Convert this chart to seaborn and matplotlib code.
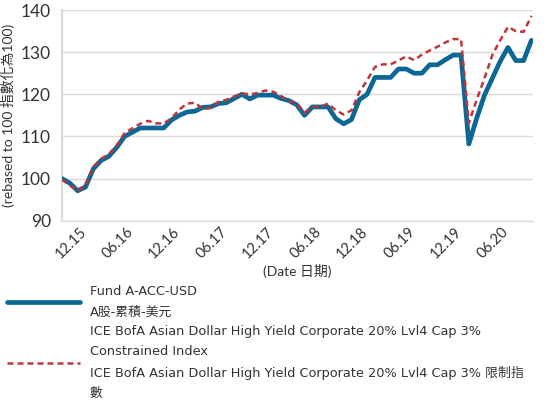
import numpy as np
import pandas as pd
import matplotlib
matplotlib.use("Agg")
import matplotlib.pyplot as plt
import seaborn as sns

# ---- data ----
months = pd.date_range("2015-09-01", periods=61, freq="MS")
fund = [100, 98.9, 97.1, 98, 102.3, 104.3, 105.3, 107.4, 110, 111, 112, 112, 112, 112,
        113.9, 115, 115.8, 116, 116.9, 117, 117.8, 118, 119, 120, 118.9, 119.8, 119.8,
        119.8, 119, 118.5, 117.5, 115, 117, 117, 117, 114.2, 113, 114, 118.7, 120,
        124, 124, 124, 126, 126, 125, 125, 127, 127, 128.2, 129.3, 129.3, 108.2, 114.3,
        119.8, 123.8, 127.8, 131.1, 128, 128, 132.8]
index = [99.8, 98.4, 97.1, 98.3, 102.8, 104.7, 105.8, 107.9, 110.8, 111.9, 113, 113.7,
         113.1, 113.1, 114.3, 116.4, 117.8, 118, 116.5, 116.8, 118.2, 118.7, 119.5, 120.2,
         120, 120.3, 120.9, 120.6, 119.6, 118.4, 117.9, 115.7, 117, 117, 117.8, 116.2,
         115.2, 116.2, 120.5, 123.3, 126.5, 127.1, 127.1, 128, 129, 128.1, 129.4, 130.4,
         131.3, 132.3, 133.1, 133.1, 113.2, 118.7, 123.8, 129.3, 132.8, 136, 135, 134.8,
         138.6]
tick_labels = ["12.15", "06.16", "12.16", "06.17", "12.17", "06.18", "12.18", "06.19",
               "12.19", "06.20"]
fund_label = "Fund A-ACC-USD\nA股-累積-美元"
index_label = ("ICE BofA Asian Dollar High Yield Corporate 20% Lvl4 Cap 3%\n"
               "Constrained Index\n"
               "ICE BofA Asian Dollar High Yield Corporate 20% Lvl4 Cap 3% 限制指\n數")
y_label = "(rebased to 100 指數化為100)"
x_label = "(Date 日期)"

sns.set_style("white")
plt.rcParams["font.family"] = ["Lato", "Noto Sans CJK TC", "DejaVu Sans"]
wide = ["DejaVu Sans", "Noto Sans CJK TC"]

df = pd.DataFrame({"i": np.arange(len(months)), "fund": fund, "index": index})

fig = plt.figure(figsize=(5.48, 4.01), dpi=100)
ax = fig.add_axes([62 / 548, 1 - 220.7 / 401, (533 - 62) / 548, (220.7 - 10) / 401])

blue = "#0d6795"
red = "#c0353a"
sns.lineplot(data=df, x="i", y="fund", ax=ax, color=blue, linewidth=3.4,
             label=fund_label, zorder=3)
sns.lineplot(data=df, x="i", y="index", ax=ax, color=red, linewidth=1.8,
             label=index_label, zorder=4)
ax.lines[1].set_dashes([2.4, 1.6])

ax.set_xlim(0, 60.2)
ax.set_ylim(90, 140)
ax.set_yticks(np.arange(90, 141, 10))
ax.grid(axis="y", color="#dedad6", linewidth=1)
ax.grid(axis="x", visible=False)

tick_pos = [i for i, m in enumerate(months) if m.month in (12, 6)]
ax.set_xticks([p + 0.45 for p in tick_pos])
ax.set_xticklabels(tick_labels, rotation=45, ha="right", fontsize=10.5, color="#333333")
ax.tick_params(axis="x", length=0, pad=3)
ax.tick_params(axis="y", length=6, width=1, color="#dedad6", labelsize=12.5,
               labelcolor="#333333", pad=2)

for s in ["top", "right"]:
    ax.spines[s].set_visible(False)
ax.spines["left"].set_color("#dedad6")
ax.spines["left"].set_linewidth(1.6)
ax.spines["bottom"].set_color("#dedad6")
ax.spines["bottom"].set_linewidth(1)

ax.set_ylabel(y_label, fontsize=10, color="#333333", labelpad=4)
ax.set_xlabel(x_label, fontsize=10, color="#333333", labelpad=2)

ax.get_legend().remove()
h, l = ax.get_legend_handles_labels()
leg = fig.legend(h, l, loc="upper left", bbox_to_anchor=(7 / 548, 1 - 285 / 401),
                 frameon=False, prop={"family": wide, "size": 9.25},
                 handlelength=5.7, handletextpad=0.75,
                 labelspacing=0.5, borderaxespad=0, borderpad=0)
for t in leg.get_texts():
    t.set_linespacing(1.72)
    t.set_color("#333333")

fig.savefig("out.png", dpi=100)
